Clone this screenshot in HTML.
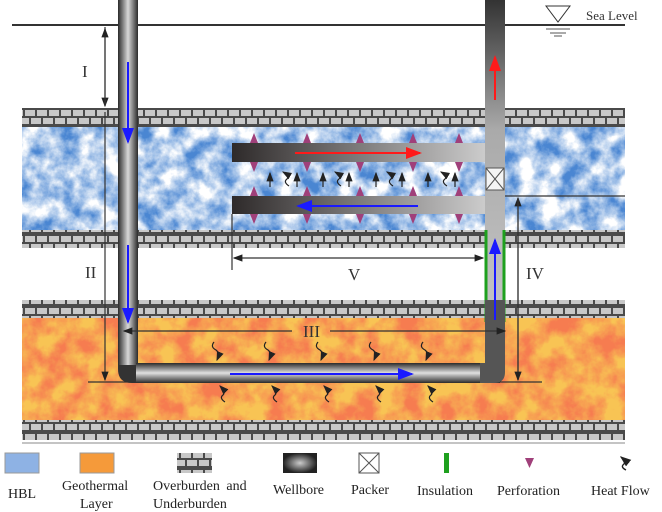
<!DOCTYPE html>
<html><head><style>body{margin:0;background:#fff}svg{display:block}</style></head><body>
<svg width="662" height="512" viewBox="0 0 662 512" xmlns="http://www.w3.org/2000/svg" font-family="Liberation Serif, serif">
<defs>
<pattern id="brick" width="24" height="18" patternUnits="userSpaceOnUse" y="108">
<rect width="24" height="18" fill="#4a4a4a"/>
<rect x="1" y="2" width="10" height="6" fill="#c8c8c8"/><rect x="13" y="2" width="10" height="6" fill="#c8c8c8"/>
<rect x="-5" y="10" width="10" height="6" fill="#c8c8c8"/><rect x="7" y="10" width="10" height="6" fill="#c8c8c8"/><rect x="19" y="10" width="10" height="6" fill="#c8c8c8"/>
</pattern>
<filter id="tb" x="0" y="0" width="1" height="1">
<feTurbulence type="fractalNoise" baseFrequency="0.05" numOctaves="5" seed="3"/>
<feColorMatrix type="matrix" values="0 0 0 0 1  0 0 0 0 1  0 0 0 0 1  0 0 0 2.2 -0.55"/>
</filter>
<filter id="tr" x="0" y="0" width="1" height="1">
<feTurbulence type="fractalNoise" baseFrequency="0.045" numOctaves="5" seed="7"/>
<feColorMatrix type="matrix" values="0 0 0 0 0.92  0 0 0 0 0.2  0 0 0 0 0.08  0 0 0 2.4 -0.75"/>
</filter>
<linearGradient id="vp" x1="0" y1="0" x2="1" y2="0">
<stop offset="0" stop-color="#2a2a2a"/><stop offset=".5" stop-color="#d8d8d8"/><stop offset="1" stop-color="#2a2a2a"/>
</linearGradient>
<linearGradient id="hp" x1="0" y1="0" x2="0" y2="1">
<stop offset="0" stop-color="#2a2a2a"/><stop offset=".5" stop-color="#e0e0e0"/><stop offset="1" stop-color="#2a2a2a"/>
</linearGradient>
<linearGradient id="rp" x1="0" y1="0" x2="0" y2="1">
<stop offset="0" stop-color="#333"/><stop offset=".35" stop-color="#aaa"/><stop offset="1" stop-color="#ccc"/>
</linearGradient>
<linearGradient id="br" x1="0" y1="0" x2="1" y2="0">
<stop offset="0" stop-color="#2e2a2a"/><stop offset="1" stop-color="#d0d0d0"/>
</linearGradient>
<radialGradient id="wb"><stop offset="0" stop-color="#ccc"/><stop offset="1" stop-color="#222"/></radialGradient>
<marker id="ak" markerWidth="8" markerHeight="8" refX="7" refY="4" orient="auto"><path d="M0,1 L8,4 L0,7 Z" fill="#222"/></marker>
<marker id="ab" markerWidth="8" markerHeight="8" refX="7" refY="4" orient="auto"><path d="M0,1 L8,4 L0,7 Z" fill="#1a1aff"/></marker>
<marker id="ar" markerWidth="8" markerHeight="8" refX="7" refY="4" orient="auto"><path d="M0,1 L8,4 L0,7 Z" fill="#ff1a1a"/></marker>
</defs>
<!-- sea level -->
<line x1="12" y1="25" x2="625" y2="25" stroke="#333" stroke-width="2"/>
<path d="M546,6 L570,6 L558,22 Z" fill="none" stroke="#333"/>
<line x1="546" y1="29" x2="570" y2="29" stroke="#555"/><line x1="550" y1="33" x2="566" y2="33" stroke="#555"/><line x1="554" y1="36" x2="562" y2="36" stroke="#555"/>
<text x="586" y="20" font-size="13" fill="#333">Sea  Level</text>
<!-- layers -->
<rect x="22" y="108" width="603" height="19" fill="url(#brick)"/>
<rect x="22" y="127" width="603" height="103" fill="#4a86d2"/>
<rect x="22" y="127" width="603" height="103" filter="url(#tb)"/>
<rect x="22" y="230" width="603" height="18" fill="url(#brick)"/>
<rect x="22" y="300" width="603" height="18" fill="url(#brick)"/>
<rect x="22" y="318" width="603" height="102" fill="#f8c454"/>
<rect x="22" y="318" width="603" height="102" filter="url(#tr)"/>
<rect x="22" y="420" width="603" height="20" fill="url(#brick)"/>
<line x1="22" y1="443" x2="625" y2="443" stroke="#888"/>
<!-- branches -->
<rect x="232" y="143" width="260" height="19" fill="url(#br)"/>
<rect x="232" y="196" width="260" height="18" fill="url(#br)"/>
<!-- perforations -->
<g fill="#a0407a">
<path d="M250,143 l4,-10 l4,10Z M250,162 l4,10 l4,-10Z M250,196 l4,-10 l4,10Z M250,214 l4,10 l4,-10Z"/>
<path d="M303,143 l4,-10 l4,10Z M303,162 l4,10 l4,-10Z M303,196 l4,-10 l4,10Z M303,214 l4,10 l4,-10Z"/>
<path d="M356,143 l4,-10 l4,10Z M356,162 l4,10 l4,-10Z M356,196 l4,-10 l4,10Z M356,214 l4,10 l4,-10Z"/>
<path d="M409,143 l4,-10 l4,10Z M409,162 l4,10 l4,-10Z M409,196 l4,-10 l4,10Z M409,214 l4,10 l4,-10Z"/>
<path d="M455,143 l4,-10 l4,10Z M455,162 l4,10 l4,-10Z M455,196 l4,-10 l4,10Z M455,214 l4,10 l4,-10Z"/>
</g>
<g stroke="#222" stroke-width="1.2" fill="none" marker-end="url(#ak)">
<line x1="270" y1="187" x2="270" y2="173"/><line x1="297" y1="187" x2="297" y2="173"/>
<line x1="323" y1="187" x2="323" y2="173"/><line x1="349" y1="187" x2="349" y2="173"/>
<line x1="376" y1="187" x2="376" y2="173"/><line x1="402" y1="187" x2="402" y2="173"/>
<line x1="428" y1="187" x2="428" y2="173"/><line x1="455" y1="187" x2="455" y2="173"/>
<path d="M289,186 q-6,-4 -2,-7 q3,-3 -4,-7"/><path d="M341,186 q-6,-4 -2,-7 q3,-3 -4,-7"/>
<path d="M393,186 q-6,-4 -2,-7 q3,-3 -4,-7"/><path d="M447,186 q-6,-4 -2,-7 q3,-3 -4,-7"/>
</g>
<!-- right pipe -->
<rect x="485" y="0" width="20" height="372" fill="url(#rp)"/>
<rect x="486" y="168" width="18" height="22" fill="#f4f4f4" stroke="#555"/>
<path d="M486,168 L504,190 M504,168 L486,190" stroke="#555"/>
<line x1="486" y1="230" x2="486" y2="322" stroke="#1ea01e" stroke-width="3"/>
<line x1="504" y1="230" x2="504" y2="322" stroke="#1ea01e" stroke-width="3"/>
<!-- left pipe and bottom -->
<path d="M118,0 L138,0 L138,363 L500,363 L500,383 L132,383 Q118,383 118,369 Z" fill="#333"/>
<rect x="118" y="0" width="20" height="365" fill="url(#vp)"/>
<rect x="136" y="363" width="350" height="20" fill="url(#hp)"/>
<path d="M485,300 L505,300 L505,372 Q505,383 494,383 L480,383 L480,363 L485,363Z" fill="#555"/>
<!-- flow arrows -->
<g stroke-width="2" fill="none">
<line x1="128" y1="62" x2="128" y2="142" stroke="#1a1aff" marker-end="url(#ab)"/>
<line x1="128" y1="245" x2="128" y2="322" stroke="#1a1aff" marker-end="url(#ab)"/>
<line x1="230" y1="374" x2="412" y2="374" stroke="#1a1aff" marker-end="url(#ab)"/>
<line x1="495" y1="320" x2="495" y2="240" stroke="#1a1aff" marker-end="url(#ab)"/>
<line x1="295" y1="153" x2="420" y2="153" stroke="#ff1a1a" marker-end="url(#ar)"/>
<line x1="418" y1="206" x2="298" y2="206" stroke="#1a1aff" marker-end="url(#ab)"/>
<line x1="495" y1="100" x2="495" y2="57" stroke="#ff1a1a" marker-end="url(#ar)"/>
</g>
<!-- heat flow geo -->
<g stroke="#222" stroke-width="1.2" fill="none" marker-end="url(#ak)">
<path d="M214,342 q-4,5 2,8 q4,3 1,10"/><path d="M266,342 q-4,5 2,8 q4,3 1,10"/><path d="M318,342 q-4,5 2,8 q4,3 1,10"/><path d="M371,342 q-4,5 2,8 q4,3 1,10"/><path d="M423,342 q-4,5 2,8 q4,3 1,10"/>
<path d="M225,402 q-6,-4 -2,-7 q3,-3 -3,-9"/><path d="M277,402 q-6,-4 -2,-7 q3,-3 -3,-9"/><path d="M329,402 q-6,-4 -2,-7 q3,-3 -3,-9"/><path d="M381,402 q-6,-4 -2,-7 q3,-3 -3,-9"/><path d="M433,402 q-6,-4 -2,-7 q3,-3 -3,-9"/>
</g>
<!-- dimensions -->
<g stroke="#333" stroke-width="1.2" fill="none">
<line x1="105" y1="27" x2="105" y2="106" marker-end="url(#ak)"/>
<line x1="105" y1="106" x2="105" y2="29" marker-end="url(#ak)"/>
<line x1="105" y1="112" x2="105" y2="380" marker-end="url(#ak)"/>
<line x1="88" y1="382" x2="135" y2="382"/>
<line x1="232" y1="214" x2="232" y2="270"/>
<line x1="300" y1="258" x2="234" y2="258" marker-end="url(#ak)"/>
<line x1="300" y1="258" x2="483" y2="258" marker-end="url(#ak)"/>
<line x1="505" y1="196" x2="625" y2="196"/>
<line x1="518" y1="380" x2="518" y2="198" marker-end="url(#ak)"/>
<line x1="518" y1="198" x2="518" y2="380" marker-end="url(#ak)"/>
<line x1="500" y1="382" x2="542" y2="382"/>
<line x1="292" y1="331" x2="124" y2="331" marker-end="url(#ak)"/>
<line x1="330" y1="331" x2="505" y2="331" marker-end="url(#ak)"/>
</g>
<g font-size="17" fill="#333">
<text x="82" y="77">I</text><text x="85" y="278">II</text><text x="303" y="337">III</text><text x="348" y="280">V</text><text x="526" y="279">IV</text>
</g>
<!-- legend -->
<rect x="5" y="453" width="34" height="20" fill="#8eb2e4" stroke="#999"/>
<rect x="80" y="453" width="34" height="20" fill="#f59a3a" stroke="#999"/>
<rect x="177" y="453" width="35" height="20" fill="url(#brick)"/>
<rect x="283" y="453" width="34" height="20" fill="url(#wb)"/>
<rect x="359" y="453" width="20" height="20" fill="#fff" stroke="#555"/><path d="M359,453 L379,473 M379,453 L359,473" stroke="#555"/>
<rect x="444" y="453" width="5" height="20" fill="#1ea01e"/>
<path d="M525,458 L534,458 L529.5,468Z" fill="#a0407a"/>
<path d="M626,470 q-6,-3 -2,-6 q2,-3 -3,-7" stroke="#222" stroke-width="1.4" fill="none" marker-end="url(#ak)"/>
<g font-size="14" fill="#222">
<text x="8" y="498">HBL</text>
<text x="62" y="490">Geothermal</text><text x="80" y="508">Layer</text>
<text x="153" y="490" word-spacing="3">Overburden and</text><text x="153" y="508">Underburden</text>
<text x="273" y="494">Wellbore</text>
<text x="351" y="494">Packer</text>
<text x="417" y="495">Insulation</text>
<text x="497" y="495">Perforation</text>
<text x="591" y="495">Heat Flow</text>
</g>
</svg>
</body></html>
